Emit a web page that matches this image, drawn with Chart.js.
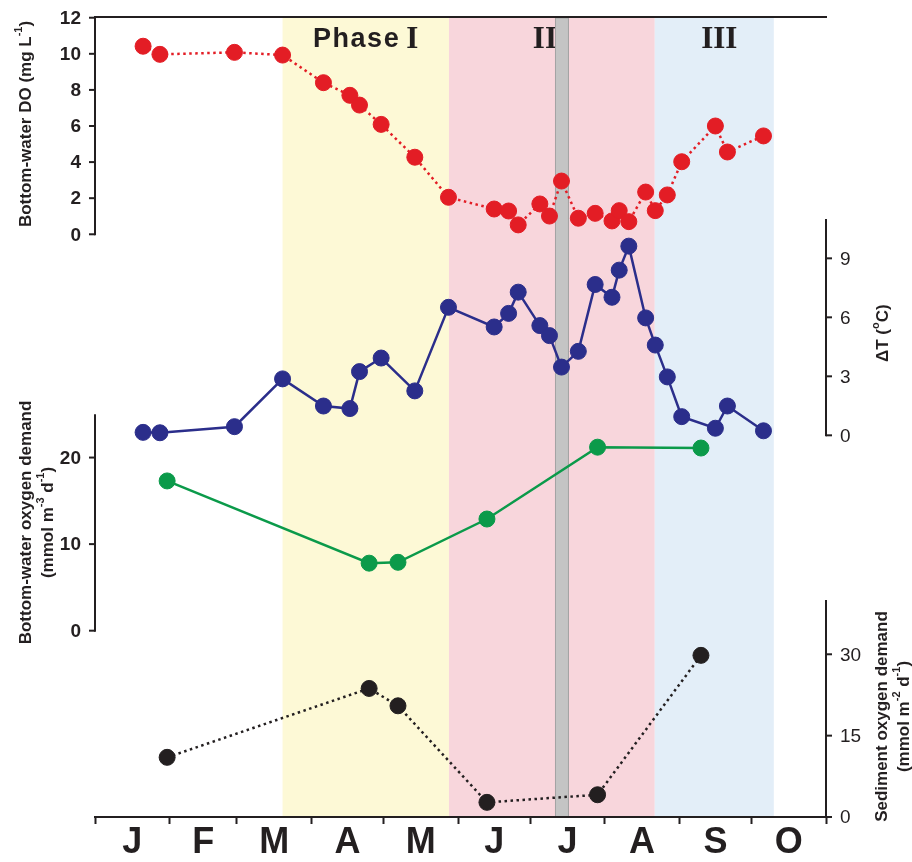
<!DOCTYPE html>
<html>
<head>
<meta charset="utf-8">
<script src="https://cdn.jsdelivr.net/npm/chart.js"></script>
<style>
  html, body { margin: 0; padding: 0; background: #fff; }
  canvas { display: block; }
</style>
</head>
<body>
<canvas id="grafico" width="912" height="862"></canvas>
<script>
// x values are days since 1 January
const sampleDays = [20, 27, 58, 78, 95, 106, 110, 119, 133, 147, 166, 172, 176, 185, 189, 194, 201, 208, 215, 218, 222, 229, 233, 238, 244, 258, 263, 278];
const bottomDO = [10.42, 9.97, 10.08, 9.93, 8.40, 7.70, 7.16, 6.09, 4.27, 2.05, 1.40, 1.29, 0.52, 1.68, 1.01, 2.95, 0.89, 1.16, 0.74, 1.31, 0.70, 2.34, 1.31, 2.18, 4.02, 6.00, 4.56, 5.45];
const deltaT = [0.15, 0.13, 0.44, 2.87, 1.49, 1.36, 3.24, 3.93, 2.26, 6.51, 5.51, 6.20, 7.28, 5.58, 5.07, 3.47, 4.27, 7.67, 7.02, 8.40, 9.62, 5.97, 4.59, 2.97, 0.95, 0.36, 1.49, 0.23];

const incubationDays = [30, 114, 126, 163, 209, 252];
const waterDemand = [17.3, 7.8, 7.9, 12.9, 21.2, 21.1];
const sedimentDemand = [11.0, 23.7, 20.5, 2.7, 4.1, 29.8];

const months = ['J', 'F', 'M', 'A', 'M', 'J', 'J', 'A', 'S', 'O'];
const monthStarts = [0, 31, 59, 90, 120, 151, 181, 212, 243, 273, 304];
const monthMids = months.map((m, i) => (monthStarts[i] + monthStarts[i + 1]) / 2);

const doTicks = [0, 2, 4, 6, 8, 10, 12];
const dtTicks = [0, 3, 6, 9];
const bwTicks = [0, 10, 20];
const sodTicks = [0, 15, 30];

const phaseNames = ['Phase I', 'II', 'III'];
const phaseStart = [78, 147.2, 232.8];
const phaseEnd = [147.2, 232.8, 282.3];
const eventDays = [191.5, 196.9];

const ink = '#231f20';
const phaseColors = ['#fdf9d6', '#f8d6dc', '#e3eef8'];
const sans = '"Liberation Sans", Arial, sans-serif';
const serif = '"Liberation Serif", "Times New Roman", serif';
Chart.defaults.font.family = sans;

// vertical slot of each y axis in the plot area (0 top, 1 bottom) and its drawn range
const eixos = [
  { id: 'yDO', side: 'left', range: [0, 12], slot: [0.0009, 0.2716], ticks: doTicks, bold: true, tx: -69, dy: -2,
    title: [[['Bottom-water DO (mg L'], ['-1', 1], [')']]] },
  { id: 'yDT', side: 'right', range: [0, 11], slot: [0.2525, 0.5229], ticks: dtTicks, bold: false, tx: 57, dy: 6,
    title: [[['\u0394T ('], ['o', 1], ['C)']]] },
  { id: 'yBW', side: 'left', range: [0, 25], slot: [0.4966, 0.7671], ticks: bwTicks, bold: true, tx: -58, dy: 0,
    title: [[['Bottom-water oxygen demand']], [['(mmol m'], ['-3', 1], [' d'], ['-1', 1], [')']]] },
  { id: 'ySOD', side: 'right', range: [0, 40], slot: [0.7288, 1.0], ticks: sodTicks, bold: false, tx: 67, dy: 8,
    title: [[['Sediment oxygen demand']], [['(mmol m'], ['-2', 1], [' d'], ['-1', 1], [')']]] }
];

function limites(e) {
  const [lo, hi] = e.range, [fTop, fBot] = e.slot;
  const per = (hi - lo) / (fBot - fTop);
  return { min: lo - (1 - fBot) * per, max: hi + fTop * per };
}

function titulo(ctx, lines, cx, cy, size, gap) {
  lines.forEach((parts, i) => {
    const x = cx + (i - (lines.length - 1) / 2) * gap;
    const fonts = parts.map(p => `bold ${p[1] ? Math.round(size * 0.65) : size}px ${sans}`);
    let w = 0;
    parts.forEach((p, j) => { ctx.font = fonts[j]; w += ctx.measureText(p[0]).width; });
    ctx.save();
    ctx.translate(x, cy);
    ctx.rotate(-Math.PI / 2);
    ctx.textAlign = 'left';
    ctx.textBaseline = 'middle';
    let pos = -w / 2;
    parts.forEach((p, j) => {
      ctx.font = fonts[j];
      ctx.fillText(p[0], pos, p[1] ? -size * 0.42 : 0);
      pos += ctx.measureText(p[0]).width;
    });
    ctx.restore();
  });
}

const fundo = {
  id: 'fundo',
  beforeDraw(chart) {
    const { ctx, chartArea: a, scales: { x } } = chart;
    ctx.save();
    ctx.fillStyle = '#fff';
    ctx.fillRect(0, 0, chart.width, chart.height);
    phaseStart.forEach((s, i) => {
      const x1 = x.getPixelForValue(s), x2 = x.getPixelForValue(phaseEnd[i]);
      ctx.fillStyle = phaseColors[i];
      ctx.fillRect(x1, a.top + 1, x2 - x1, a.bottom - a.top - 1);
    });
    // phase labels
    const offs = [0, -7, 5];
    ctx.fillStyle = ink;
    ctx.textBaseline = 'middle';
    ctx.textAlign = 'left';
    phaseNames.forEach((name, i) => {
      const cx = (x.getPixelForValue(phaseStart[i]) + x.getPixelForValue(phaseEnd[i])) / 2 + offs[i];
      const parts = name.startsWith('Phase')
        ? [['Phase', `bold 27px ${sans}`, '1.5px'], ['\u2009I', `bold 31px ${serif}`, '0px']]
        : [[name, `bold 31px ${serif}`, '0px']];
      let w = 0;
      parts.forEach(p => { ctx.font = p[1]; ctx.letterSpacing = p[2]; w += ctx.measureText(p[0]).width; });
      let pos = cx - w / 2;
      parts.forEach(p => {
        ctx.font = p[1]; ctx.letterSpacing = p[2];
        ctx.fillText(p[0], pos, 40);
        pos += ctx.measureText(p[0]).width;
      });
    });
    ctx.letterSpacing = '0px';
    // short event band
    const e1 = x.getPixelForValue(eventDays[0]), e2 = x.getPixelForValue(eventDays[1]);
    ctx.fillStyle = '#c4c4c4';
    ctx.fillRect(e1, a.top + 1, e2 - e1, a.bottom - a.top - 1);
    ctx.strokeStyle = '#a3a3a3';
    ctx.lineWidth = 1;
    ctx.strokeRect(e1, a.top + 1, e2 - e1, a.bottom - a.top - 1);
    ctx.restore();
  },
  afterDraw(chart) {
    const { ctx, chartArea: a } = chart;
    ctx.save();
    ctx.strokeStyle = ink;
    ctx.fillStyle = ink;
    ctx.lineWidth = 2;
    ctx.beginPath();
    ctx.moveTo(a.left - 1, a.top);
    ctx.lineTo(a.right + 1, a.top);
    ctx.stroke();
    eixos.forEach(e => {
      const s = chart.scales[e.id];
      const left = e.side === 'left';
      const x0 = left ? a.left : a.right;
      const dir = left ? -1 : 1;
      const y1 = s.getPixelForValue(e.range[0]), y2 = s.getPixelForValue(e.range[1]);
      ctx.lineWidth = 2;
      ctx.beginPath();
      ctx.moveTo(x0, y1 + 1);
      ctx.lineTo(x0, y2);
      ctx.stroke();
      ctx.font = `${e.bold ? 'bold ' : ''}19px ${sans}`;
      ctx.textAlign = left ? 'right' : 'left';
      ctx.textBaseline = 'middle';
      e.ticks.forEach(v => {
        const y = s.getPixelForValue(v);
        ctx.beginPath();
        ctx.moveTo(x0, y);
        ctx.lineTo(x0 + dir * 6, y);
        ctx.stroke();
        ctx.fillText(String(v), x0 + dir * 14, y + 1);
      });
      titulo(ctx, e.title, x0 + e.tx, (y1 + y2) / 2 + e.dy, 17, 22);
    });
    ctx.restore();
  }
};

const yScales = {};
eixos.forEach(e => { yScales[e.id] = Object.assign({ type: 'linear', display: false }, limites(e)); });

const red = '#e31d25', navy = '#2b2e8b', green = '#0b9a4a';

new Chart(document.getElementById('grafico').getContext('2d'), {
  type: 'line',
  data: {
    datasets: [
      { label: 'Bottom-water DO', yAxisID: 'yDO', data: sampleDays.map((d, i) => ({ x: d, y: bottomDO[i] })),
        borderColor: red, backgroundColor: red, pointBorderColor: red, borderWidth: 2.5, borderDash: [2.5, 3.5],
        pointRadius: 8, pointBorderWidth: 1 },
      { label: '\u0394T', yAxisID: 'yDT', data: sampleDays.map((d, i) => ({ x: d, y: deltaT[i] })),
        borderColor: navy, backgroundColor: navy, pointBorderColor: navy, borderWidth: 2.5,
        pointRadius: 8, pointBorderWidth: 1 },
      { label: 'Bottom-water oxygen demand', yAxisID: 'yBW', data: incubationDays.map((d, i) => ({ x: d, y: waterDemand[i] })),
        borderColor: green, backgroundColor: green, pointBorderColor: green, borderWidth: 2.5,
        pointRadius: 8, pointBorderWidth: 1 },
      { label: 'Sediment oxygen demand', yAxisID: 'ySOD', data: incubationDays.map((d, i) => ({ x: d, y: sedimentDemand[i] })),
        borderColor: ink, backgroundColor: ink, pointBorderColor: ink, borderWidth: 2.5, borderDash: [2.5, 3.5],
        pointRadius: 8, pointBorderWidth: 1 }
    ]
  },
  options: {
    responsive: false,
    animation: false,
    devicePixelRatio: 1,
    layout: { padding: { left: 95, right: 86, top: 17, bottom: 0 } },
    plugins: { legend: { display: false }, tooltip: { enabled: false } },
    scales: Object.assign({
      x: {
        type: 'linear', min: 0, max: 304, bounds: 'data',
        afterBuildTicks: s => {
          s.ticks = monthStarts.map(v => ({ value: v }))
            .concat(monthMids.map(v => ({ value: v })))
            .sort((p, q) => p.value - q.value);
        },
        afterFit: s => { s.height = 45; },
        border: { color: ink, width: 2 },
        grid: {
          drawOnChartArea: false, tickLength: 7, tickWidth: 2,
          tickColor: c => (c.tick && monthStarts.includes(c.tick.value)) ? ink : 'rgba(0,0,0,0)'
        },
        ticks: {
          autoSkip: false, maxRotation: 0, padding: -3, color: ink,
          font: { size: 36, weight: 'bold' },
          callback: v => { const i = monthMids.indexOf(v); return i >= 0 ? months[i] : ''; }
        }
      }
    }, yScales)
  },
  plugins: [fundo]
});
</script>
</body>
</html>
